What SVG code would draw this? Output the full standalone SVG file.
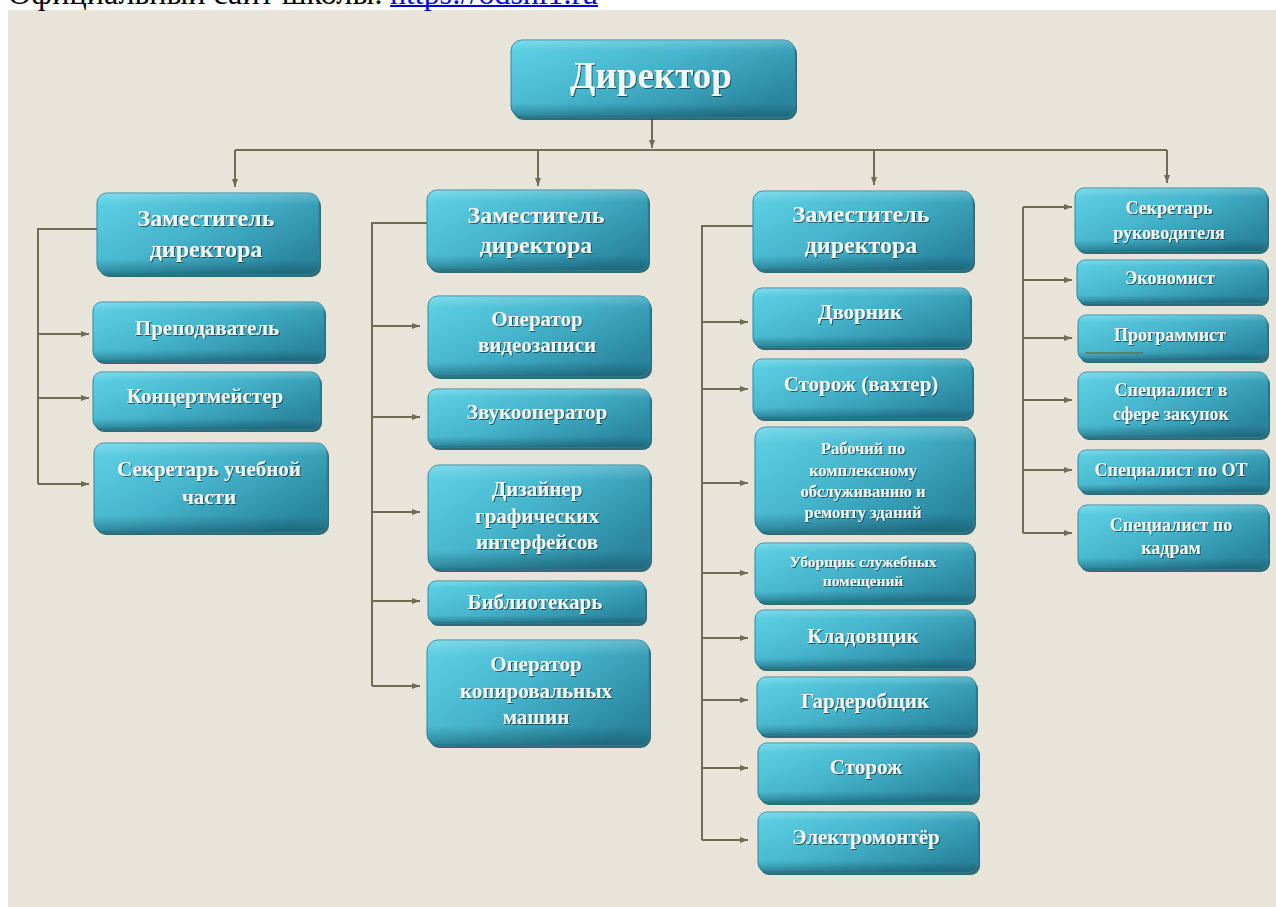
<svg xmlns="http://www.w3.org/2000/svg" width="1276" height="907" viewBox="0 0 1276 907">
<defs>
<linearGradient id="gb" x1="0" y1="0" x2="1" y2="0.7">
<stop offset="0" stop-color="#60d3e7"/>
<stop offset="0.5" stop-color="#45b4cc"/>
<stop offset="1" stop-color="#2a859e"/>
</linearGradient>
<linearGradient id="gv" x1="0" y1="0" x2="0" y2="1">
<stop offset="0" stop-color="#ffffff" stop-opacity="0.2"/>
<stop offset="0.15" stop-color="#ffffff" stop-opacity="0"/>
<stop offset="0.82" stop-color="#0a3a46" stop-opacity="0"/>
<stop offset="1" stop-color="#0a3a46" stop-opacity="0.4"/>
</linearGradient>
<filter id="ts" x="-10%" y="-30%" width="120%" height="160%">
<feDropShadow dx="1" dy="1" stdDeviation="0.6" flood-color="#0b3b47" flood-opacity="0.8"/>
</filter>
<marker id="ar" viewBox="0 0 8 8" refX="8" refY="4" markerWidth="8" markerHeight="8" markerUnits="userSpaceOnUse" orient="auto">
<path d="M0,1 L8,4 L0,7 z" fill="#6f6c52"/>
</marker>
<style>
.sh{fill:#1c5e6d;opacity:0.9}
.bx{fill:url(#gb);stroke:#2c8aa2;stroke-width:1}
.hl{fill:url(#gv)}
.t{font-family:"Liberation Serif","Times New Roman",serif;font-weight:bold;fill:#f2f7f2;text-anchor:middle;filter:url(#ts)}
.cn{fill:none;stroke:#6f6c52;stroke-width:2}
.ca{fill:none;stroke:#6f6c52;stroke-width:2;marker-end:url(#ar)}
.top{font-family:"Liberation Serif","Times New Roman",serif;font-size:32px}
</style>
</defs>
<rect x="0" y="0" width="1276" height="907" fill="#ffffff"/>
<rect x="8" y="10" width="1268" height="897" fill="#e8e4d9"/>
<text class="top" x="8" y="4" fill="#000000" textLength="375" lengthAdjust="spacingAndGlyphs">Официальный сайт школы:</text>
<text class="top" x="390" y="4" fill="#0000ee" textLength="208" lengthAdjust="spacingAndGlyphs">https://odshi1.ru</text>
<rect x="390" y="5" width="208" height="2" fill="#0000ee"/>

<g id="connectors">
<path class="ca" d="M652 117 V148"/>
<path class="cn" d="M235 150 H1167"/>
<path class="ca" d="M235 150 V187"/>
<path class="ca" d="M538 150 V186"/>
<path class="ca" d="M874 150 V185"/>
<path class="ca" d="M1167 150 V183"/>
<path class="cn" d="M97 229 H38 V484"/>
<path class="ca" d="M38 334 H89"/>
<path class="ca" d="M38 398 H89"/>
<path class="ca" d="M38 484 H89"/>
<path class="cn" d="M427 223 H372 V686"/>
<path class="ca" d="M372 326 H420"/>
<path class="ca" d="M372 417 H420"/>
<path class="ca" d="M372 512 H420"/>
<path class="ca" d="M372 601 H420"/>
<path class="ca" d="M372 686 H420"/>
<path class="cn" d="M753 226 H702 V840"/>
<path class="ca" d="M702 322 H748"/>
<path class="ca" d="M702 389 H748"/>
<path class="ca" d="M702 483 H748"/>
<path class="ca" d="M702 573 H748"/>
<path class="ca" d="M702 638 H748"/>
<path class="ca" d="M702 700 H748"/>
<path class="ca" d="M702 768 H748"/>
<path class="ca" d="M702 840 H748"/>
<path class="cn" d="M1023 207 V533"/>
<path class="ca" d="M1023 207 H1072"/>
<path class="ca" d="M1023 280 H1072"/>
<path class="ca" d="M1023 338 H1072"/>
<path class="ca" d="M1023 400 H1072"/>
<path class="ca" d="M1023 470 H1072"/>
<path class="ca" d="M1023 533 H1072"/>
</g>

<g id="n-director">
<rect class="sh" x="513" y="43" width="284" height="77" rx="11"/>
<rect class="bx" x="511" y="40" width="284" height="77" rx="11"/>
<rect class="hl" x="511" y="40" width="284" height="77" rx="11"/>
<text class="t" x="651" y="88" font-size="37">Директор</text>
</g>

<g id="n-dep1">
<rect class="sh" x="99" y="196" width="222" height="81" rx="10"/>
<rect class="bx" x="97" y="193" width="222" height="81" rx="10"/>
<rect class="hl" x="97" y="193" width="222" height="81" rx="10"/>
<text class="t" x="206" y="226" font-size="24">Заместитель</text>
<text class="t" x="206" y="257" font-size="24">директора</text>
</g>
<g id="n-prepod">
<rect class="sh" x="95" y="305" width="231" height="59" rx="9"/>
<rect class="bx" x="93" y="302" width="231" height="59" rx="9"/>
<rect class="hl" x="93" y="302" width="231" height="59" rx="9"/>
<text class="t" x="207" y="335" font-size="21">Преподаватель</text>
</g>
<g id="n-koncert">
<rect class="sh" x="95" y="375" width="227" height="57" rx="9"/>
<rect class="bx" x="93" y="372" width="227" height="57" rx="9"/>
<rect class="hl" x="93" y="372" width="227" height="57" rx="9"/>
<text class="t" x="205" y="403" font-size="21">Концертмейстер</text>
</g>
<g id="n-sekr-uch">
<rect class="sh" x="96" y="446" width="233" height="89" rx="10"/>
<rect class="bx" x="94" y="443" width="233" height="89" rx="10"/>
<rect class="hl" x="94" y="443" width="233" height="89" rx="10"/>
<text class="t" x="209" y="476" font-size="21">Секретарь учебной</text>
<text class="t" x="209" y="504" font-size="21">части</text>
</g>

<g id="n-dep2">
<rect class="sh" x="429" y="193" width="221" height="80" rx="10"/>
<rect class="bx" x="427" y="190" width="221" height="80" rx="10"/>
<rect class="hl" x="427" y="190" width="221" height="80" rx="10"/>
<text class="t" x="536" y="223" font-size="24">Заместитель</text>
<text class="t" x="536" y="253" font-size="24">директора</text>
</g>
<g id="n-video">
<rect class="sh" x="430" y="299" width="222" height="80" rx="10"/>
<rect class="bx" x="428" y="296" width="222" height="80" rx="10"/>
<rect class="hl" x="428" y="296" width="222" height="80" rx="10"/>
<text class="t" x="537" y="326" font-size="21">Оператор</text>
<text class="t" x="537" y="352" font-size="21">видеозаписи</text>
</g>
<g id="n-zvuk">
<rect class="sh" x="430" y="392" width="222" height="58" rx="9"/>
<rect class="bx" x="428" y="389" width="222" height="58" rx="9"/>
<rect class="hl" x="428" y="389" width="222" height="58" rx="9"/>
<text class="t" x="537" y="419" font-size="21">Звукооператор</text>
</g>
<g id="n-design">
<rect class="sh" x="430" y="468" width="222" height="104" rx="11"/>
<rect class="bx" x="428" y="465" width="222" height="104" rx="11"/>
<rect class="hl" x="428" y="465" width="222" height="104" rx="11"/>
<text class="t" x="537" y="496" font-size="21">Дизайнер</text>
<text class="t" x="537" y="523" font-size="21">графических</text>
<text class="t" x="537" y="549" font-size="21">интерфейсов</text>
</g>
<g id="n-bibl">
<rect class="sh" x="430" y="584" width="217" height="42" rx="8"/>
<rect class="bx" x="428" y="581" width="217" height="42" rx="8"/>
<rect class="hl" x="428" y="581" width="217" height="42" rx="8"/>
<text class="t" x="535" y="609" font-size="21">Библиотекарь</text>
</g>
<g id="n-copy">
<rect class="sh" x="429" y="643" width="222" height="105" rx="11"/>
<rect class="bx" x="427" y="640" width="222" height="105" rx="11"/>
<rect class="hl" x="427" y="640" width="222" height="105" rx="11"/>
<text class="t" x="536" y="671" font-size="21">Оператор</text>
<text class="t" x="536" y="698" font-size="21">копировальных</text>
<text class="t" x="536" y="724" font-size="21">машин</text>
</g>

<g id="n-dep3">
<rect class="sh" x="755" y="194" width="220" height="79" rx="10"/>
<rect class="bx" x="753" y="191" width="220" height="79" rx="10"/>
<rect class="hl" x="753" y="191" width="220" height="79" rx="10"/>
<text class="t" x="861" y="222" font-size="24">Заместитель</text>
<text class="t" x="861" y="253" font-size="24">директора</text>
</g>
<g id="n-dvornik">
<rect class="sh" x="755" y="291" width="217" height="59" rx="9"/>
<rect class="bx" x="753" y="288" width="217" height="59" rx="9"/>
<rect class="hl" x="753" y="288" width="217" height="59" rx="9"/>
<text class="t" x="860" y="319" font-size="21">Дворник</text>
</g>
<g id="n-vahter">
<rect class="sh" x="755" y="362" width="219" height="59" rx="9"/>
<rect class="bx" x="753" y="359" width="219" height="59" rx="9"/>
<rect class="hl" x="753" y="359" width="219" height="59" rx="9"/>
<text class="t" x="861" y="391" font-size="21">Сторож (вахтер)</text>
</g>
<g id="n-rabochiy">
<rect class="sh" x="757" y="430" width="219" height="105" rx="11"/>
<rect class="bx" x="755" y="427" width="219" height="105" rx="11"/>
<rect class="hl" x="755" y="427" width="219" height="105" rx="11"/>
<text class="t" x="863" y="454" font-size="16.5">Рабочий по</text>
<text class="t" x="863" y="476" font-size="16.5">комплексному</text>
<text class="t" x="863" y="497" font-size="16.5">обслуживанию и</text>
<text class="t" x="863" y="518" font-size="16.5">ремонту зданий</text>
</g>
<g id="n-uborshik">
<rect class="sh" x="757" y="546" width="219" height="59" rx="9"/>
<rect class="bx" x="755" y="543" width="219" height="59" rx="9"/>
<rect class="hl" x="755" y="543" width="219" height="59" rx="9"/>
<text class="t" x="863" y="567" font-size="15.5">Уборщик служебных</text>
<text class="t" x="863" y="586" font-size="15.5">помещений</text>
</g>
<g id="n-kladov">
<rect class="sh" x="757" y="613" width="219" height="58" rx="9"/>
<rect class="bx" x="755" y="610" width="219" height="58" rx="9"/>
<rect class="hl" x="755" y="610" width="219" height="58" rx="9"/>
<text class="t" x="863" y="643" font-size="21">Кладовщик</text>
</g>
<g id="n-garderob">
<rect class="sh" x="759" y="680" width="219" height="58" rx="9"/>
<rect class="bx" x="757" y="677" width="219" height="58" rx="9"/>
<rect class="hl" x="757" y="677" width="219" height="58" rx="9"/>
<text class="t" x="865" y="708" font-size="21">Гардеробщик</text>
</g>
<g id="n-storozh">
<rect class="sh" x="760" y="746" width="220" height="59" rx="9"/>
<rect class="bx" x="758" y="743" width="220" height="59" rx="9"/>
<rect class="hl" x="758" y="743" width="220" height="59" rx="9"/>
<text class="t" x="866" y="774" font-size="21">Сторож</text>
</g>
<g id="n-elektro">
<rect class="sh" x="760" y="815" width="220" height="60" rx="9"/>
<rect class="bx" x="758" y="812" width="220" height="60" rx="9"/>
<rect class="hl" x="758" y="812" width="220" height="60" rx="9"/>
<text class="t" x="866" y="844" font-size="21">Электромонтёр</text>
</g>

<g id="n-sekr-ruk">
<rect class="sh" x="1077" y="191" width="192" height="63" rx="9"/>
<rect class="bx" x="1075" y="188" width="192" height="63" rx="9"/>
<rect class="hl" x="1075" y="188" width="192" height="63" rx="9"/>
<text class="t" x="1169" y="214" font-size="18">Секретарь</text>
<text class="t" x="1169" y="239" font-size="18">руководителя</text>
</g>
<g id="n-econ">
<rect class="sh" x="1079" y="263" width="190" height="43" rx="8"/>
<rect class="bx" x="1077" y="260" width="190" height="43" rx="8"/>
<rect class="hl" x="1077" y="260" width="190" height="43" rx="8"/>
<text class="t" x="1170" y="284" font-size="18">Экономист</text>
</g>
<g id="n-prog">
<rect class="sh" x="1080" y="318" width="189" height="45" rx="8"/>
<rect class="bx" x="1078" y="315" width="189" height="45" rx="8"/>
<rect class="hl" x="1078" y="315" width="189" height="45" rx="8"/>
<text class="t" x="1170" y="341" font-size="18">Программист</text>
<path d="M1085 353 H1143" stroke="#6f6c52" stroke-width="1.5" fill="none"/>
</g>
<g id="n-zakup">
<rect class="sh" x="1080" y="375" width="190" height="65" rx="9"/>
<rect class="bx" x="1078" y="372" width="190" height="65" rx="9"/>
<rect class="hl" x="1078" y="372" width="190" height="65" rx="9"/>
<text class="t" x="1171" y="396" font-size="18">Специалист в</text>
<text class="t" x="1171" y="420" font-size="18">сфере закупок</text>
</g>
<g id="n-ot">
<rect class="sh" x="1080" y="453" width="190" height="42" rx="8"/>
<rect class="bx" x="1078" y="450" width="190" height="42" rx="8"/>
<rect class="hl" x="1078" y="450" width="190" height="42" rx="8"/>
<text class="t" x="1171" y="476" font-size="18">Специалист по ОТ</text>
</g>
<g id="n-kadry">
<rect class="sh" x="1080" y="508" width="190" height="64" rx="9"/>
<rect class="bx" x="1078" y="505" width="190" height="64" rx="9"/>
<rect class="hl" x="1078" y="505" width="190" height="64" rx="9"/>
<text class="t" x="1171" y="531" font-size="18">Специалист по</text>
<text class="t" x="1171" y="554" font-size="18">кадрам</text>
</g>
</svg>
